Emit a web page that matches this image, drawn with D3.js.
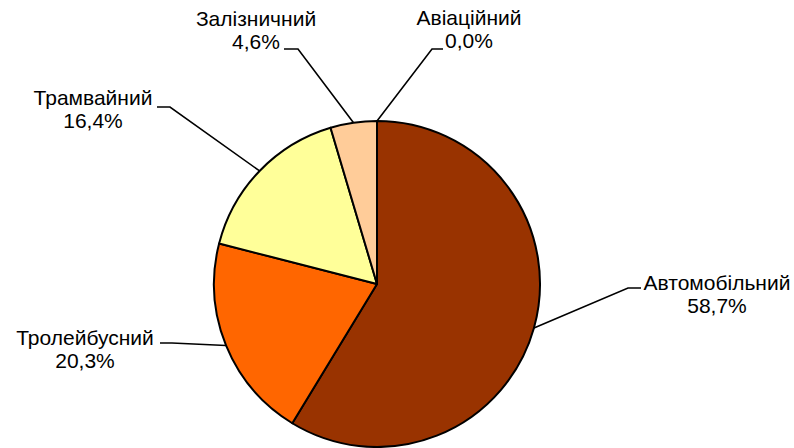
<!DOCTYPE html>
<html>
<head>
<meta charset="utf-8">
<script src="https://cdn.jsdelivr.net/npm/d3@7"></script>
<style>
  body { margin: 0; background: #fff; }
  svg { display: block; }
  .lbl { font-family: "Liberation Sans", Arial, sans-serif; font-size: 21px; fill: #000; }
</style>
</head>
<body>
<svg id="chart" width="794" height="448"></svg>
<script>
// values, clockwise from 12 o'clock
var categories = ["Автомобільний", "Тролейбусний", "Трамвайний", "Залізничний", "Авіаційний"];
var shares = [58.7, 20.3, 16.4, 4.6, 0.0];
var shareText = ["58,7%", "20,3%", "16,4%", "4,6%", "0,0%"];
var colors = ["#993300", "#FF6600", "#FFFF99", "#FFCC99", "#CCCCFF"];

// label layout (offsets from pie centre): text centre x, first baseline y, elbow x/y, tick end x
var labelSpots = [
  { tx: 340, ty: 6,    ex: 251,  ey: 4,    kx: 264 },
  { tx: -292, ty: 61,  ex: -205, ey: 59,   kx: -217 },
  { tx: -284, ty: -179, ex: -207, ey: -177, kx: -220 },
  { tx: -121, ty: -258, ex: -79,  ey: -235, kx: -93 },
  { tx: 92,  ty: -259, ex: 55,   ey: -235, kx: 66 }
];

var svg = d3.select("#chart");
var cx = 377, cy = 284, r = 163;

var g = svg.append("g").attr("transform", "translate(" + cx + "," + cy + ")");

var pie = d3.pie().sort(null).value(function(d) { return d; })
  .startAngle(0).endAngle(2 * Math.PI);
var arcs = pie(shares);
var arc = d3.arc().innerRadius(0).outerRadius(r);

g.selectAll("path.slice")
  .data(arcs)
  .enter()
  .append("path")
  .attr("class", "slice")
  .attr("d", arc)
  .attr("fill", function(d, i) { return colors[i]; })
  .attr("stroke", "#000")
  .attr("stroke-width", 2)
  .attr("stroke-linejoin", "round");

// leader lines
function edgePoint(d) {
  var a = (d.startAngle + d.endAngle) / 2;
  return [r * Math.sin(a), -r * Math.cos(a)];
}

g.selectAll("polyline.leader")
  .data(arcs)
  .enter()
  .append("polyline")
  .attr("class", "leader")
  .attr("fill", "none")
  .attr("stroke", "#000")
  .attr("stroke-width", 1.6)
  .attr("points", function(d, i) {
    var p = edgePoint(d), s = labelSpots[i];
    return [p, [s.ex, s.ey], [s.kx, s.ey]].map(function(q) { return q.join(","); }).join(" ");
  });

var labels = g.selectAll("text.lbl")
  .data(arcs)
  .enter()
  .append("text")
  .attr("class", "lbl")
  .attr("text-anchor", "middle")
  .attr("x", function(d, i) { return labelSpots[i].tx; })
  .attr("y", function(d, i) { return labelSpots[i].ty; });

labels.append("tspan")
  .attr("x", function(d, i) { return labelSpots[i].tx; })
  .text(function(d, i) { return categories[i]; });
labels.append("tspan")
  .attr("x", function(d, i) { return labelSpots[i].tx; })
  .attr("dy", 23)
  .text(function(d, i) { return shareText[i]; });
</script>
</body>
</html>
